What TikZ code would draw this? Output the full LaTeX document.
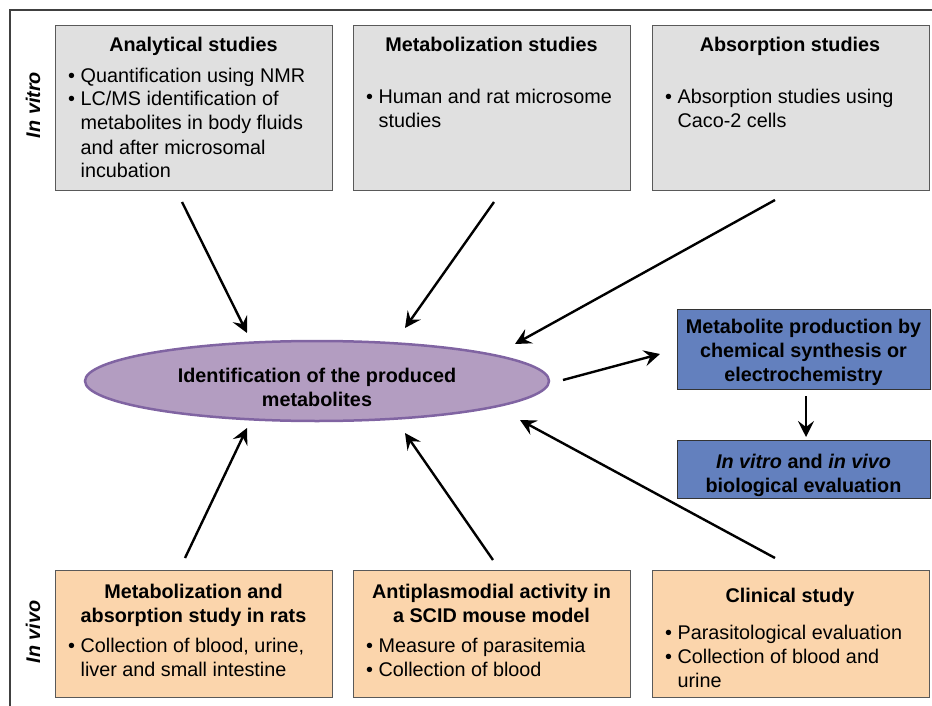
\documentclass[tikz,border=0pt]{standalone}
\usepackage{fontspec}
\setmainfont{Liberation Sans}
\usetikzlibrary{arrows.meta, shapes.geometric, positioning}

\definecolor{boxgray}{RGB}{224,224,224}
\definecolor{boxpeach}{RGB}{251,213,172}
\definecolor{boxblue}{RGB}{99,128,190}
\definecolor{ellfill}{RGB}{179,157,193}
\definecolor{elldraw}{RGB}{128,100,162}

\newcommand{\itemdot}{\textbullet\ }
\newcommand{\itemgap}{\hphantom{\textbullet\ }}

\begin{document}
\begin{tikzpicture}[x=1pt, y=-1pt, font=\fontsize{19.8}{24}\selectfont,
    studybox/.style={draw=black!65, line width=1pt, anchor=north west, inner sep=0pt,
        minimum width=277pt, minimum height=165pt},
    vitrobox/.style={studybox, fill=boxgray},
    vivobox/.style={studybox, fill=boxpeach, minimum height=127pt},
    prodbox/.style={draw=black!80, line width=1pt, fill=boxblue, anchor=north west,
        inner sep=0pt, minimum width=253pt},
    headtxt/.style={anchor=north, inner sep=0pt, align=center,
        font=\fontsize{19.8}{24}\selectfont\bfseries},
    listtxt/.style={anchor=north west, inner sep=0pt, align=left},
    sidetxt/.style={rotate=90, inner sep=0pt,
        font=\fontsize{19.8}{24}\selectfont\bfseries\itshape},
    arr/.style={-{Stealth[length=16pt, width=16pt, inset=6pt]}, line width=2.4pt}]
\useasboundingbox (0,0) rectangle (932,706);

% frame
\draw[black!75, line width=1.2pt] (932,10) -- (10,10) -- (10,706);
\node[sidetxt] (vitro) at (33,105) {In vitro};
\node[sidetxt] (vivo) at (33,632) {In vivo};

% in vitro boxes
\node[vitrobox] (ana) at (55,25) {};
\node[headtxt] (anahead) at (193.5,35) {\strut Analytical studies};
\node[listtxt] (analist) at (68,65) {\strut\itemdot Quantification using NMR\\
    \itemdot LC/MS identification of\\ \itemgap metabolites in body fluids\\
    \itemgap and after microsomal\\ \itemgap incubation};

\node[vitrobox] (meta) at (353,25) {};
\node[headtxt] (metahead) at (491.5,35) {\strut Metabolization studies};
\node[listtxt] (metalist) at (366,87) {\strut\itemdot Human and rat microsome\\
    \itemgap studies};

\node[vitrobox] (abs) at (652,25) {};
\node[headtxt] (abshead) at (790,35) {\strut Absorption studies};
\node[listtxt] (abslist) at (665,87) {\strut\itemdot Absorption studies using\\
    \itemgap Caco-2 cells};

% in vivo boxes
\node[vivobox] (rats) at (55,570) {};
\node[headtxt] (ratshead) at (193.5,581) {\strut Metabolization and\\ absorption study in rats};
\node[listtxt] (ratslist) at (68,635) {\strut\itemdot Collection of blood, urine,\\
    \itemgap liver and small intestine};

\node[vivobox] (scid) at (353,570) {};
\node[headtxt] (scidhead) at (491.5,581) {\strut Antiplasmodial activity in\\ a SCID mouse model};
\node[listtxt] (scidlist) at (366,635) {\strut\itemdot Measure of parasitemia\\
    \itemdot Collection of blood};

\node[vivobox] (clin) at (652,570) {};
\node[headtxt] (clinhead) at (790,585) {\strut Clinical study};
\node[listtxt] (clinlist) at (665,622) {\strut\itemdot Parasitological evaluation\\
    \itemdot Collection of blood and\\ \itemgap urine};

% centre and production
\node[ellipse, draw=elldraw, line width=2.5pt, fill=ellfill, minimum width=464pt,
    minimum height=80pt, inner sep=0pt] (ident) at (317,381) {};
\node[headtxt] (identtxt) at (317,365) {\strut Identification of the produced\\ metabolites};

\node[prodbox, minimum height=80pt] (synth) at (677,309) {};
\node[headtxt] (synthtxt) at (803.5,316) {\strut Metabolite production by\\
    chemical synthesis or\\ electrochemistry};
\node[prodbox, minimum height=58pt] (bio) at (677,440) {};
\node[headtxt] (biotxt) at (803.5,451) {\strut\textit{In vitro} and \textit{in vivo}\\
    biological evaluation};

% arrow ends
\coordinate (a1) at (182,202);  \coordinate (b1) at (247,333);
\coordinate (a2) at (494,202);  \coordinate (b2) at (405,328);
\coordinate (a3) at (775,200);  \coordinate (b3) at (515,344);
\coordinate (a4) at (563,380);  \coordinate (b4) at (660,354);
\coordinate (a5) at (806,396);  \coordinate (b5) at (806,437);
\coordinate (a6) at (185,558);  \coordinate (b6) at (247,428);
\coordinate (a7) at (493,560);  \coordinate (b7) at (405,433);
\coordinate (a8) at (775,558);  \coordinate (b8) at (520,420);

\foreach \s/\t in {a1/b1, a2/b2, a3/b3, a4/b4, a5/b5, a6/b6, a7/b7, a8/b8}
    \draw[arr] (\s) -- (\t);
\end{tikzpicture}
\end{document}
